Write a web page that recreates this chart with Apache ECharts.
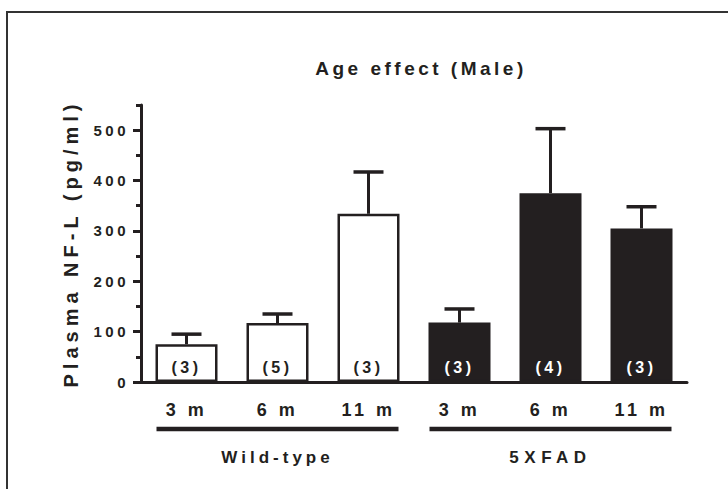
<!DOCTYPE html>
<html>
<head>
<meta charset="utf-8">
<script src="https://cdn.jsdelivr.net/npm/echarts@6/dist/echarts.min.js"></script>
<style>
  html, body { margin: 0; padding: 0; background: #fff; }
  #chart { width: 728px; height: 489px; }
  #chart text { letter-spacing: 3.5px; }
</style>
</head>
<body>
<div id="chart"></div>
<script>
// ---- data ----
const categories = ['3 m', '6 m', '11 m', '3 m', '6 m', '11 m'];
const groups = ['Wild-type', '5XFAD'];
const groupOf = [0, 0, 0, 1, 1, 1];
const means = [75, 117, 334, 118, 375, 305];
const upperErr = [95, 135, 417, 145, 503, 348];
const nLabels = ['(3)', '(5)', '(3)', '(3)', '(4)', '(3)'];
const yTicks = [0, 100, 200, 300, 400, 500];
const yMinorTicks = [50, 150, 250, 350, 450, 550];
const yMax = 550;
const titleText = 'Age effect (Male)';
const yName = 'Plasma NF-L (pg/ml)';

// ---- styles ----
const INK = '#231f20';
const FONT = '"Liberation Sans", Arial, sans-serif';
const groupFill = ['#ffffff', INK];
const groupLabelColor = [INK, '#ffffff'];
const spacing = {};
spacing[yName] = '5px';
spacing[titleText] = '3.5px';
spacing['Wild-type'] = '4px';
spacing['5XFAD'] = '5.5px';

const chart = echarts.init(document.getElementById('chart'), null, { renderer: 'svg' });

const barData = means.map((v, i) => ({
  value: v,
  itemStyle: { color: groupFill[groupOf[i]], borderColor: INK, borderWidth: 2.5 },
  label: { color: groupLabelColor[groupOf[i]], formatter: nLabels[i] }
}));

const errData = means.map((v, i) => [i, v, upperErr[i]]);

const groupData = groups.map((g, gi) => {
  const idx = groupOf.map((x, i) => x === gi ? i : -1).filter(i => i >= 0);
  return [idx[0], idx[idx.length - 1], gi];
});

const option = {
  backgroundColor: '#fff',
  animation: false,
  title: {
    text: titleText,
    left: 416,
    textAlign: 'center',
    top: 54,
    textStyle: { fontFamily: FONT, fontWeight: 'bold', fontSize: 19, color: INK }
  },
  graphic: [{
    type: 'rect',
    shape: { x: 7, y: 12, width: 900, height: 700 },
    style: { fill: 'none', stroke: '#333', lineWidth: 2 },
    silent: true
  }],
  grid: { left: 141, right: 41, top: 105, bottom: 107 },
  xAxis: {
    type: 'category',
    data: categories,
    axisLine: { lineStyle: { color: INK, width: 3 } },
    axisTick: { show: false },
    axisLabel: { fontFamily: FONT, fontWeight: 'bold', fontSize: 18, color: INK, margin: 19 }
  },
  yAxis: [{
    type: 'value',
    min: 0,
    max: yMax,
    name: yName,
    nameLocation: 'middle',
    nameGap: 60,
    nameMoveOverlap: false,
    nameTextStyle: { fontFamily: FONT, fontWeight: 'bold', fontSize: 20, color: INK },
    axisLine: { show: true, lineStyle: { color: INK, width: 3 } },
    axisTick: { show: true, customValues: yTicks, length: 8, lineStyle: { color: INK, width: 3 } },
    axisLabel: { customValues: yTicks, fontFamily: FONT, fontWeight: 'bold', fontSize: 15, color: INK, margin: 12 },
    splitLine: { show: false }
  }, {
    type: 'value',
    min: 0,
    max: yMax,
    position: 'left',
    axisLine: { show: false },
    axisTick: { show: true, customValues: yMinorTicks, length: 5, lineStyle: { color: INK, width: 3 } },
    axisLabel: { show: false },
    splitLine: { show: false }
  }],
  series: [{
    type: 'bar',
    data: barData,
    barWidth: 62,
    label: {
      show: true,
      position: 'insideBottom',
      distance: 7,
      fontFamily: FONT, fontWeight: 'bold', fontSize: 16
    },
    z: 2
  }, {
    type: 'custom',
    data: errData,
    z: 3,
    renderItem: function (params, api) {
      const base = api.coord([api.value(0), api.value(1)]);
      const top = api.coord([api.value(0), api.value(2)]);
      const cap = 15;
      return {
        type: 'group',
        children: [{
          type: 'line',
          shape: { x1: base[0], y1: base[1], x2: top[0], y2: top[1] },
          style: { stroke: INK, lineWidth: 3 }
        }, {
          type: 'line',
          shape: { x1: top[0] - cap, y1: top[1], x2: top[0] + cap, y2: top[1] },
          style: { stroke: INK, lineWidth: 3.5 }
        }]
      };
    }
  }, {
    type: 'custom',
    data: groupData,
    clip: false,
    z: 3,
    renderItem: function (params, api) {
      const p0 = api.coord([api.value(0), 0]);
      const p1 = api.coord([api.value(1), 0]);
      const half = 30;
      const y = p0[1] + 47;
      return {
        type: 'group',
        children: [{
          type: 'line',
          shape: { x1: p0[0] - half, y1: y, x2: p1[0] + half, y2: y },
          style: { stroke: INK, lineWidth: 4.5 }
        }, {
          type: 'text',
          style: {
            text: groups[api.value(2)],
            x: (p0[0] + p1[0]) / 2,
            y: p0[1] + 75,
            align: 'center',
            verticalAlign: 'middle',
            fontFamily: FONT, fontWeight: 'bold', fontSize: 17,
            fill: INK
          }
        }]
      };
    }
  }]
};

chart.setOption(option);

function applySpacing() {
  document.querySelectorAll('#chart text').forEach(t => {
    const s = t.textContent;
    if (spacing[s]) t.style.letterSpacing = spacing[s];
  });
}
chart.on('finished', applySpacing);
applySpacing();
</script>
</body>
</html>
